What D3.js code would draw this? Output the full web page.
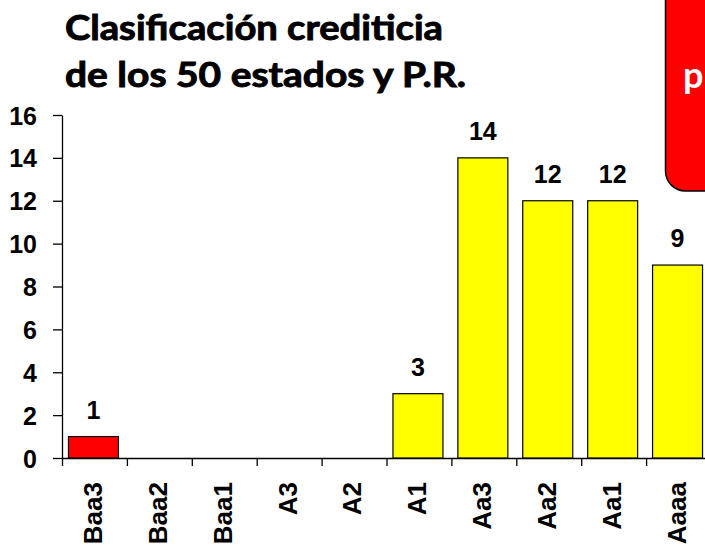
<!DOCTYPE html>
<html>
<head>
<meta charset="utf-8">
<script src="https://cdn.jsdelivr.net/npm/d3@7"></script>
<style>
  body { margin: 0; background: #fff; }
  svg { display: block; }
  .axis text { font-family: "Liberation Sans", Arial, sans-serif; font-weight: bold; font-size: 25px; fill: #000; }
  .axis path, .axis line { stroke: #000; stroke-width: 1.3; }
</style>
</head>
<body>
<svg id="chart" width="705" height="546"></svg>
<script>
"use strict";

// data
let categories = ["Baa3", "Baa2", "Baa1", "A3", "A2", "A1", "Aa3", "Aa2", "Aa1", "Aaaa"],
  values = [1, 0, 0, 0, 0, 3, 14, 12, 12, 9],
  barColors = ["#ff0000", "#ffff00", "#ffff00", "#ffff00", "#ffff00", "#ffff00", "#ffff00", "#ffff00", "#ffff00", "#ffff00"],
  yTicks = [0, 2, 4, 6, 8, 10, 12, 14, 16],
  titleLines = ["Clasificación crediticia", "de los 50 estados y P.R."]
;

let svg = d3.select("#chart"),
  x = d3.scaleBand().domain(categories).range([62, 711]).paddingInner(0.23).paddingOuter(0.115),
  xEdge = d3.scaleLinear().domain([0, categories.length]).range([62, 711]),
  y = d3.scaleLinear().domain([0, 16]).range([458, 115])
;

// title (stroke thickens the bold face a bit)
svg.selectAll(".title")
  .data(titleLines)
  .enter().append("text")
    .attr("class", "title")
    .attr("x", 65)
    .attr("y", function(d, i) { return 40 + i * 47; })
    .attr("textLength", function(d, i) { return i == 0 ? 378 : 401; })
    .attr("lengthAdjust", "spacingAndGlyphs")
    .attr("stroke", "#000")
    .attr("stroke-width", 0.9)
    .style("font-family", "Lato, 'Open Sans', sans-serif")
    .style("font-weight", "bold")
    .style("font-size", "34px")
    .text(function(d) { return d; });

// red note box at the top right, cut by the page edge
svg.append("rect")
  .attr("x", 665.5)
  .attr("y", -40)
  .attr("width", 100)
  .attr("height", 231)
  .attr("rx", 20)
  .attr("ry", 20)
  .attr("fill", "#ff0000")
  .attr("stroke", "#000")
  .attr("stroke-width", 1.5);

svg.append("text")
  .attr("x", 683)
  .attr("y", 88)
  .style("font-family", "Lato, 'Open Sans', sans-serif")
  .style("font-weight", "bold")
  .style("font-size", "36px")
  .attr("fill", "#fff")
  .text("p");

// y axis
svg.append("g")
  .attr("class", "axis")
  .attr("transform", "translate(62,0)")
  .call(d3.axisLeft(y).tickValues(yTicks).tickSize(9).tickSizeOuter(0).tickPadding(16))
  .selectAll("text").attr("dy", "0.36em");

// x axis: line + ticks on the band edges
svg.append("g")
  .attr("class", "axis")
  .attr("transform", "translate(0,458)")
  .call(d3.axisBottom(xEdge).tickValues(d3.range(categories.length)).tickSize(8).tickSizeOuter(0).tickFormat(""));

// x labels, rotated
svg.append("g")
  .attr("class", "axis")
  .selectAll("text")
  .data(categories)
  .enter().append("text")
    .attr("transform", function(d) { return "translate(" + (x(d) + x.bandwidth() / 2 - 2) + ",482) rotate(-90)"; })
    .attr("text-anchor", "end")
    .attr("dy", "0.36em")
    .style("font-size", "26px")
    .text(function(d) { return d; });

// bars
let barData = categories.map(function(c, i) { return {name: c, total: values[i], color: barColors[i]}; });

svg.selectAll(".bar")
  .data(barData.filter(function(d) { return d.total > 0; }))
  .enter().append("rect")
    .attr("class", "bar")
    .attr("x", function(d) { return x(d.name) - 1; })
    .attr("y", function(d) { return y(d.total); })
    .attr("width", x.bandwidth())
    .attr("height", function(d) { return y(0) - y(d.total); })
    .attr("fill", function(d) { return d.color; })
    .attr("stroke", "#000")
    .attr("stroke-width", 1.2);

// value labels
svg.selectAll(".val")
  .data(barData.filter(function(d) { return d.total > 0; }))
  .enter().append("text")
    .attr("class", "val")
    .attr("x", function(d) { return x(d.name) - 1 + x.bandwidth() / 2; })
    .attr("y", function(d) { return y(d.total) - 18; })
    .attr("text-anchor", "middle")
    .style("font-family", "'Liberation Sans', Arial, sans-serif")
    .style("font-weight", "bold")
    .style("font-size", "25px")
    .text(function(d) { return d.total; });
</script>
</body>
</html>
